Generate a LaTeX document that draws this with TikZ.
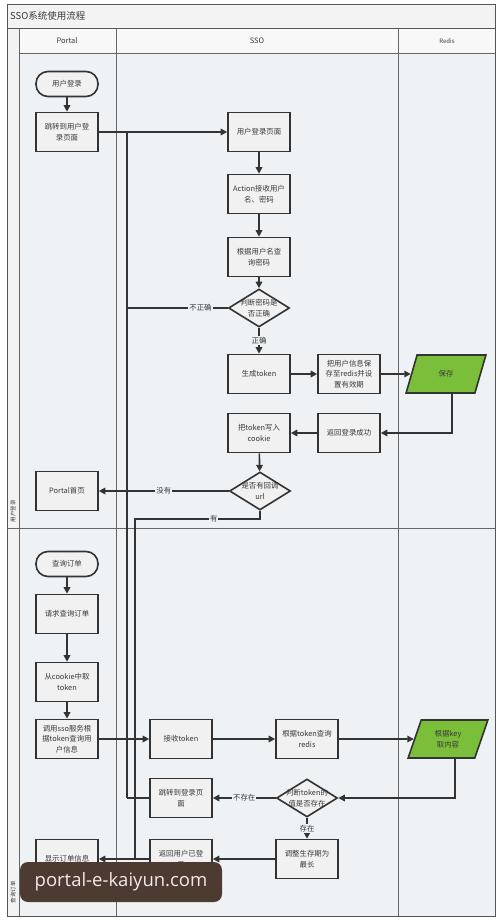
\documentclass[tikz,border=0pt]{standalone}
\usepackage{fontspec}
\setmainfont{Noto Sans CJK SC}
\newfontfamily\wmfont{Open Sans}
\usetikzlibrary{shapes.geometric,arrows.meta,calc}
\definecolor{boxline}{HTML}{333333}
\definecolor{boxfill}{HTML}{F1F1F1}
\definecolor{lanebg}{HTML}{EEF2F5}
\definecolor{titlebg}{HTML}{F3F3F3}
\definecolor{headbg}{HTML}{F8F8F8}
\definecolor{frameline}{HTML}{555555}
\definecolor{laneline}{HTML}{666666}
\definecolor{redisgreen}{RGB}{122,190,58}
\definecolor{txt}{HTML}{3A3A3A}
\definecolor{wmbg}{HTML}{4D3B32}
\definecolor{wmtxt}{HTML}{F4E8E8}
\tikzset{
  boxnode/.style={draw=boxline, line width=1.6pt, fill=boxfill, minimum width=62pt, minimum height=39pt,
    inner sep=1pt, align=center, text width=59pt, font=\fontsize{7.4}{10.5}\selectfont, text=txt},
  termnode/.style={draw=boxline, line width=1.6pt, fill=boxfill, rounded corners=12pt, minimum width=62pt,
    minimum height=25pt, inner sep=1pt, align=center, font=\fontsize{7.4}{10}\selectfont, text=txt},
  decnode/.style={diamond, draw=boxline, line width=1.6pt, fill=boxfill, minimum width=61pt, minimum height=38pt, inner sep=0pt},
  dectext/.style={align=center, inner sep=0pt, font=\fontsize{7.4}{10.5}\selectfont, text=txt},
  paranode/.style={trapezium, trapezium left angle=70, trapezium right angle=110, trapezium stretches=true,
    draw=boxline, line width=1.6pt, fill=redisgreen, minimum width=80pt, minimum height=38pt,
    inner sep=1pt, align=center, font=\fontsize{7.4}{10.5}\selectfont, text=txt},
  arr/.style={draw=boxline, line width=1.6pt, -{Triangle[length=6.5pt,width=6.5pt]}},
  ln/.style={draw=boxline, line width=1.6pt},
  lbl/.style={fill=lanebg, inner sep=1pt, font=\fontsize{7.4}{9}\selectfont, text=txt},
  lanelbl/.style={font=\fontsize{5.5}{6}\selectfont, text=txt, rotate=90},
  headlbl/.style={font=\fontsize{7.5}{9}\selectfont, text=txt},
}
\begin{document}
\begin{tikzpicture}[x=1pt,y=-1pt]
\useasboundingbox (0,0) rectangle (500,921);
\fill[white] (0,0) rectangle (500,921);
% frame and lanes
\fill[titlebg] (7,4) rectangle (495,916);
\fill[lanebg] (19,53) rectangle (495,916);
\fill[headbg] (19,28) rectangle (495,53);
\draw[frameline, line width=1pt] (7,4) rectangle (495,916);
\draw[frameline, line width=0.8pt] (7,28) -- (495,28);
\draw[laneline, line width=0.7pt] (19,28) -- (19,916);
\draw[laneline, line width=0.7pt] (116,28) -- (116,916);
\draw[laneline, line width=0.7pt] (398,28) -- (398,916);
\draw[laneline, line width=0.7pt] (19,53) -- (495,53);
\draw[laneline, line width=0.7pt] (7,528) -- (495,528);
\node[anchor=west, font=\fontsize{9.5}{11}\selectfont, text=txt, inner sep=0pt] (title) at (10,16) {SSO系统使用流程};
\node[headlbl] (hportal) at (67,41) {Portal};
\node[headlbl] (hsso) at (257,41) {SSO};
\node[headlbl, font=\fontsize{6}{7}\selectfont] (hredis) at (447,41) {Redis};
\node[lanelbl] (lane1) at (13,511) {用户登录};
\node[lanelbl] (lane2) at (13,892) {查询订单};

% coordinates
\coordinate (j1) at (127,132);
\coordinate (j2) at (127,308);
\coordinate (j3) at (135,519);
\coordinate (j4) at (135,859);
\coordinate (j5) at (127,798);

% lane 1 nodes
\node[termnode] (t1) at (67,84) {用户登录};
\node[boxnode] (b1) at (67,132) {跳转到用户登\\录页面};
\node[boxnode] (s1) at (259,132) {用户登录页面};
\node[boxnode] (s2) at (259,194) {Action接收用户\\名、密码};
\node[boxnode] (s3) at (259,257) {根据用户名查\\询密码};
\node[decnode] (d1) at (259,308) {};
\node[boxnode] (s4) at (259,374) {生成token};
\node[boxnode] (s5) at (349,374) {把用户信息保\\存至redis并设\\置有效期};
\node[paranode] (r1) at (446,374) {保存};
\node[boxnode] (s6) at (349,433) {返回登录成功};
\node[boxnode] (s7) at (259,433) {把token写入\\cookie};
\node[decnode] (d2) at (260,491) {};
\node[boxnode] (p2) at (67,491) {Portal首页};

% lane 2 nodes
\node[termnode] (t2) at (67,564) {查询订单};
\node[boxnode] (p3) at (67,614) {请求查询订单};
\node[boxnode] (p4) at (67,682) {从cookie中取\\token};
\node[boxnode] (p5) at (67,739) {调用sso服务根\\据token查询用\\户信息};
\node[boxnode] (s8) at (181,739) {接收token};
\node[boxnode] (s9) at (307,739) {根据token查询\\redis};
\node[paranode] (r2) at (448,739) {根据key\\取内容};
\node[decnode] (d3) at (307,798) {};
\node[boxnode] (s10) at (181,798) {跳转到登录页\\面};
\node[boxnode] (s11) at (307,859) {调整生存期为\\最长};
\node[boxnode] (s12) at (181,859) {返回用户已登\\录};
\node[boxnode] (p6) at (67,859) {显示订单信息};

% connectors lane 1
\draw[arr] (t1) -- (b1);
\draw[arr] (b1) -- (s1);
\draw[arr] (s1) -- (s2);
\draw[arr] (s2) -- (s3);
\draw[arr] (s3) -- (d1);
\draw[ln] (d1.west) -- node[lbl, pos=0.27] (lblno) {不正确} (j2);
\draw[arr] (d1) -- node[lbl] (lblok) {正确} (s4);
\draw[arr] (s4) -- (s5);
\draw[arr] (s5) -- (r1);
\draw[arr] ([xshift=6pt]r1.south) |- (s6.east);
\draw[arr] (s6) -- (s7);
\draw[arr] (s7) -- (d2);
\draw[arr] (d2.west) -- node[lbl] (lblnone) {没有} (p2.east);
\draw[ln] (d2.south) |- node[lbl, pos=0.685] (lblhas) {有} (j3) -- (j4);
\draw[ln] (j1) -- (j5);
\draw[ln] (s10.west) -- (j5);

% connectors lane 2
\draw[arr] (t2) -- (p3);
\draw[arr] (p3) -- (p4);
\draw[arr] (p4) -- (p5);
\draw[arr] (p5) -- (s8);
\draw[arr] (s8) -- (s9);
\draw[arr] (s9) -- (r2);
\draw[arr] ([xshift=7pt]r2.south) |- (d3.east);
\draw[arr] (d3.west) -- node[lbl] (lblnotex) {不存在} (s10.east);
\draw[arr] (d3) -- node[lbl] (lblex) {存在} (s11);
\draw[arr] (s11) -- (s12);
\draw[arr] (s12) -- (p6);

% diamond texts
\node[dectext] (d1t) at (d1) {判断密码是\\否正确};
\node[dectext] (d2t) at (d2) {是否有回调\\url};
\node[dectext] (d3t) at (d3) {判断token的\\值是否存在};

% overlay
\node[fill=wmbg, rounded corners=8pt, minimum width=202pt, minimum height=40pt, text=wmtxt,
  font=\wmfont\fontsize{18.5}{21}\selectfont, inner sep=2pt] (wm) at (121,882) {portal-e-kaiyun.com};
\end{tikzpicture}
\end{document}
